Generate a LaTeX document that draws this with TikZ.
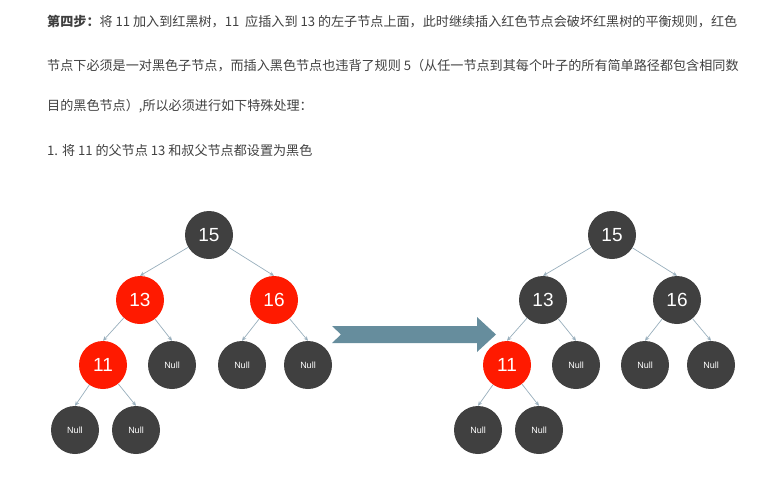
\documentclass[tikz,border=0pt]{standalone}
\usepackage{fontspec}
\setmainfont{Liberation Sans}
\newfontfamily\cjk{Noto Sans CJK SC}
\usetikzlibrary{arrows.meta}
\definecolor{nodeDark}{HTML}{404040}
\definecolor{nodeRed}{HTML}{FF1A00}
\definecolor{edgeBlue}{HTML}{98AEBC}
\definecolor{bigArrow}{HTML}{668D9D}
\definecolor{textGray}{HTML}{404040}

\begin{document}
\begin{tikzpicture}[x=1pt, y=-1pt,
  rb/.style={circle, minimum size=48pt, inner sep=0pt, text=white,
             font=\fontsize{19}{19}\selectfont},
  blk/.style={rb, fill=nodeDark},
  redn/.style={rb, fill=nodeRed},
  nil/.style={blk, font=\fontsize{9}{9}\selectfont},
  para/.style={anchor=west, inner sep=0pt, text=textGray,
               font=\cjk\fontsize{13.1}{16}\selectfont},
  edge/.style={draw=edgeBlue, line width=0.7pt, -{Stealth[length=4.5pt,width=4pt]}}
]
  \useasboundingbox (0,0) rectangle (771,496);

  \node[para] (p1) at (47,22)  {\textbf{第四步：}将 11 加入到红黑树，11 \ 应插入到 13 的左子节点上面，此时继续插入红色节点会破坏红黑树的平衡规则，红色};
  \node[para] (p2) at (47,66)  {节点下必须是一对黑色子节点，而插入黑色节点也违背了规则 5（从任一节点到其每个叶子的所有简单路径都包含相同数};
  \node[para] (p3) at (47,106) {目的黑色节点）,所以必须进行如下特殊处理：};
  \node[para] (p4) at (47,151) {1. 将 11 的父节点 13 和叔父节点都设置为黑色};

  \node[blk]  (l15)   at (209,235) {15};
  \node[redn] (l13)   at (140,300) {13};
  \node[redn] (l16)   at (274,300) {16};
  \node[redn] (l11)   at (103,365) {11};
  \node[nil]  (ln13)  at (172,365) {Null};
  \node[nil]  (ln16a) at (242,365) {Null};
  \node[nil]  (ln16b) at (308,365) {Null};
  \node[nil]  (ln11a) at (75,430)  {Null};
  \node[nil]  (ln11b) at (136,430) {Null};

  \node[blk]  (r15)   at (612,235) {15};
  \node[blk]  (r13)   at (543,300) {13};
  \node[blk]  (r16)   at (677,300) {16};
  \node[redn] (r11)   at (507,365) {11};
  \node[nil]  (rn13)  at (576,365) {Null};
  \node[nil]  (rn16a) at (645,365) {Null};
  \node[nil]  (rn16b) at (711,365) {Null};
  \node[nil]  (rn11a) at (478,430) {Null};
  \node[nil]  (rn11b) at (539,430) {Null};

  \foreach \t in {l,r}
    \foreach \a/\b in {15/13,15/16,13/11,13/n13,16/n16a,16/n16b,11/n11a,11/n11b}
      \draw[edge] (\t\a) -- (\t\b.north);

  \fill[bigArrow] (332,326) -- (477,326) -- (477,317) -- (496,334.5) -- (477,352)
    -- (477,343) -- (332,343) -- (341,334.5) -- cycle;
\end{tikzpicture}
\end{document}
